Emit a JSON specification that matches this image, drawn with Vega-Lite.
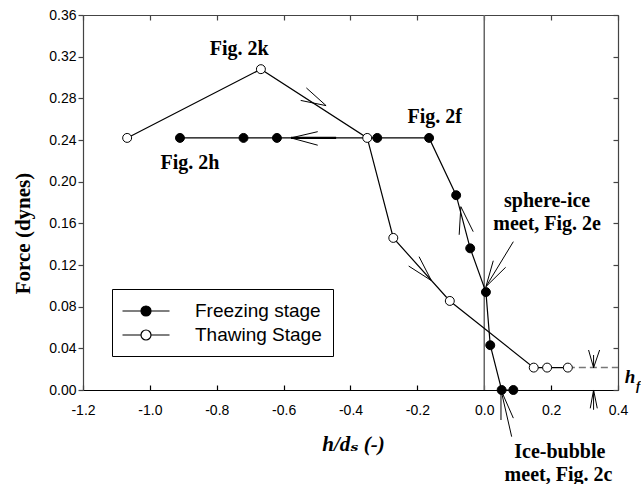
{
  "$schema": "https://vega.github.io/schema/vega-lite/v6.json",
  "width": 535,
  "height": 375,
  "autosize": {"type": "none"},
  "padding": {"left": 83, "top": 15, "right": 23, "bottom": 94},
  "background": "white",
  "config": {
    "view": {"stroke": null},
    "locale": {"number": {"decimal": ".", "thousands": ",", "grouping": [3], "currency": ["$", ""], "minus": "-"}},
    "axis": {
      "grid": false,
      "labelFont": "Liberation Sans",
      "labelFontSize": 14,
      "labelColor": "black",
      "titleFont": "Liberation Serif",
      "titleFontSize": 21,
      "titleFontWeight": "bold",
      "titleColor": "black",
      "domainColor": "#444",
      "tickColor": "#444",
      "domainWidth": 1.2,
      "tickWidth": 1.2,
      "labelFlush": false,
      "labelOverlap": false
    }
  },
  "datasets": {
    "curves": [
      {"series": "Freezing stage", "order": 1, "x": 0.087, "y": 0},
      {"series": "Freezing stage", "order": 2, "x": 0.052, "y": 0},
      {"series": "Freezing stage", "order": 3, "x": 0.018, "y": 0.043},
      {"series": "Freezing stage", "order": 4, "x": 0.005, "y": 0.094},
      {"series": "Freezing stage", "order": 5, "x": -0.042, "y": 0.136},
      {"series": "Freezing stage", "order": 6, "x": -0.084, "y": 0.187},
      {"series": "Freezing stage", "order": 7, "x": -0.165, "y": 0.242},
      {"series": "Freezing stage", "order": 8, "x": -0.32, "y": 0.242},
      {"series": "Freezing stage", "order": 9, "x": -0.62, "y": 0.242},
      {"series": "Freezing stage", "order": 10, "x": -0.72, "y": 0.242},
      {"series": "Freezing stage", "order": 11, "x": -0.91, "y": 0.242},
      {"series": "Thawing Stage", "order": 1, "x": -1.068, "y": 0.242},
      {"series": "Thawing Stage", "order": 2, "x": -0.668, "y": 0.308},
      {"series": "Thawing Stage", "order": 3, "x": -0.35, "y": 0.242},
      {"series": "Thawing Stage", "order": 4, "x": -0.272, "y": 0.146},
      {"series": "Thawing Stage", "order": 5, "x": -0.103, "y": 0.0855},
      {"series": "Thawing Stage", "order": 6, "x": 0.148, "y": 0.0215},
      {"series": "Thawing Stage", "order": 7, "x": 0.188, "y": 0.0215},
      {"series": "Thawing Stage", "order": 8, "x": 0.25, "y": 0.0215}
    ],
    "zeroline": [{"x": 0, "y": 0, "y2": 0.36}],
    "hfline": [{"x": 0.25, "x2": 0.4, "y": 0.0215}],
    "arrows": [
      {"x": -0.532, "y": 0.29, "x2": -0.473, "y2": 0.273},
      {"x": -0.549, "y": 0.278, "x2": -0.473, "y2": 0.273},
      {"x": -0.498, "y": 0.248, "x2": -0.578, "y2": 0.242},
      {"x": -0.498, "y": 0.235, "x2": -0.578, "y2": 0.242},
      {"x": -0.075, "y": 0.149, "x2": -0.07, "y2": 0.176},
      {"x": -0.033, "y": 0.152, "x2": -0.07, "y2": 0.176},
      {"x": -0.195, "y": 0.128, "x2": -0.158, "y2": 0.105},
      {"x": -0.226, "y": 0.119, "x2": -0.158, "y2": 0.105},
      {"x": 0.087, "y": 0.1424, "x2": 0.005, "y2": 0.0992},
      {"x": 0.027, "y": 0.1241, "x2": 0.005, "y2": 0.0992},
      {"x": 0.064, "y": 0.1178, "x2": 0.005, "y2": 0.0992},
      {"x": 0.327, "y": 0.0336, "x2": 0.327, "y2": 0.0214},
      {"x": 0.312, "y": 0.0384, "x2": 0.327, "y2": 0.0214},
      {"x": 0.345, "y": 0.0384, "x2": 0.327, "y2": 0.0214},
      {"x": 0.327, "y": -0.019, "x2": 0.327, "y2": 0},
      {"x": 0.317, "y": -0.0176, "x2": 0.327, "y2": 0},
      {"x": 0.338, "y": -0.0176, "x2": 0.327, "y2": 0},
      {"x": 0.082, "y": -0.0448, "x2": 0.05, "y2": 0},
      {"x": 0.05, "y": -0.0288, "x2": 0.05, "y2": 0},
      {"x": 0.087, "y": -0.027, "x2": 0.05, "y2": 0}
    ],
    "shafts": [
      {"x": -0.443, "y": 0.242, "x2": -0.578, "y2": 0.242}
    ],
    "labels": [
      {"x": -0.733, "y": 0.3216, "text": "Fig. 2k"},
      {"x": -0.88, "y": 0.2119, "text": "Fig. 2h"},
      {"x": -0.148, "y": 0.2566, "text": "Fig. 2f"},
      {"x": 0.188, "y": 0.1754, "text": "sphere-ice"},
      {"x": 0.188, "y": 0.1536, "text": "meet, Fig. 2e"},
      {"x": 0.226, "y": -0.0656, "text": "Ice-bubble"},
      {"x": 0.222, "y": -0.0871, "text": "meet, Fig. 2c"}
    ],
    "hlabel": [{"x": 0.42, "y": 0.0064, "text": "h"}],
    "flabel": [{"x": 0.4535, "y": 0.0, "text": "f"}]
  },
  "encoding": {
    "x": {"field": "x", "type": "quantitative", "scale": {"domain": [-1.2, 0.4], "nice": false, "zero": false}, "axis": null},
    "y": {"field": "y", "type": "quantitative", "scale": {"domain": [0, 0.36], "nice": false, "zero": false}, "axis": null}
  },
  "layer": [
    {
      "data": {"name": "zeroline"},
      "mark": {"type": "rule", "color": "#666", "strokeWidth": 1.5},
      "encoding": {"y2": {"field": "y2"}}
    },
    {
      "data": {"name": "hfline"},
      "mark": {"type": "rule", "color": "#777", "strokeWidth": 1.5, "strokeDash": [7, 4]},
      "encoding": {"x2": {"field": "x2"}}
    },
    {
      "data": {"name": "curves"},
      "mark": {"type": "line", "color": "black", "strokeWidth": 1.2},
      "encoding": {
        "x": {
          "field": "x", "type": "quantitative",
          "scale": {"domain": [-1.2, 0.4], "nice": false, "zero": false},
          "axis": {
            "orient": "bottom",
            "values": [-1.2, -1.0, -0.8, -0.6, -0.4, -0.2, 0, 0.2, 0.4],
            "format": ".1f",
            "tickSize": -5,
            "labelPadding": 18,
            "domainColor": "black",
            "tickColor": "black",
            "title": "h/dₛ (-)",
            "titleFont": "Liberation Serif, DejaVu Serif",
            "titleFontStyle": "italic",
            "titleX": 270,
            "titleY": 60,
            "titleBaseline": "alphabetic",
            "titleAlign": "center"
          }
        },
        "y": {
          "field": "y", "type": "quantitative",
          "scale": {"domain": [0, 0.36], "nice": false, "zero": false},
          "axis": {
            "orient": "left",
            "values": [0, 0.04, 0.08, 0.12, 0.16, 0.2, 0.24, 0.28, 0.32, 0.36],
            "format": ".2f",
            "tickSize": 5,
            "labelPadding": 2,
            "title": "Force (dynes)",
            "titleX": -60,
            "titleY": 218,
            "titleAngle": -90,
            "titleBaseline": "middle",
            "titleAlign": "center"
          }
        },
        "detail": {"field": "series", "type": "nominal"},
        "order": {"field": "order", "type": "quantitative"}
      }
    },
    {
      "data": {"name": "arrows"},
      "mark": {"type": "rule", "color": "black", "strokeWidth": 1},
      "encoding": {"x2": {"field": "x2"}, "y2": {"field": "y2"}}
    },
    {
      "data": {"name": "shafts"},
      "mark": {"type": "rule", "color": "black", "strokeWidth": 2.2},
      "encoding": {"x2": {"field": "x2"}, "y2": {"field": "y2"}}
    },
    {
      "data": {"name": "curves"},
      "mark": {"type": "circle", "size": 80, "stroke": "black", "strokeWidth": 1, "opacity": 1},
      "encoding": {
        "x": {
          "field": "x", "type": "quantitative",
          "scale": {"domain": [-1.2, 0.4], "nice": false, "zero": false},
          "axis": {
            "orient": "top",
            "values": [-1.2, -1.0, -0.8, -0.6, -0.4, -0.2, 0, 0.2, 0.4],
            "tickSize": -5,
            "labels": false,
            "title": null
          }
        },
        "y": {
          "field": "y", "type": "quantitative",
          "scale": {"domain": [0, 0.36], "nice": false, "zero": false},
          "axis": {
            "orient": "right",
            "values": [0, 0.04, 0.08, 0.12, 0.16, 0.2, 0.24, 0.28, 0.32, 0.36],
            "tickSize": -5,
            "labels": false,
            "title": null
          }
        },
        "fill": {
          "field": "series", "type": "nominal",
          "scale": {"domain": ["Freezing stage", "Thawing Stage"], "range": ["black", "white"]},
          "legend": {
            "title": null,
            "orient": "none",
            "legendX": 29,
            "legendY": 274,
            "symbolType": "M-2.35,0L-0.5,0M0.5,0L2.35,0M-0.5,0A0.5,0.5,0,1,1,0.5,0A0.5,0.5,0,1,1,-0.5,0Z",
            "symbolSize": 400,
            "symbolStrokeColor": "black",
            "symbolStrokeWidth": 1.2,
            "symbolOffset": 12,
            "labelOffset": 38,
            "labelFont": "Liberation Sans",
            "labelFontSize": 19,
            "labelColor": "black",
            "padding": 11,
            "rowPadding": 3,
            "strokeColor": "black",
            "fillColor": "white"
          }
        }
      }
    },
    {
      "data": {"name": "labels"},
      "mark": {"type": "text", "font": "Liberation Serif", "fontSize": 20, "fontWeight": "bold", "color": "black", "align": "center", "baseline": "alphabetic"},
      "encoding": {"text": {"field": "text"}}
    },
    {
      "data": {"name": "hlabel"},
      "mark": {"type": "text", "font": "Liberation Serif", "fontSize": 19, "fontWeight": "bold", "fontStyle": "italic", "color": "black", "align": "left", "baseline": "alphabetic"},
      "encoding": {"text": {"field": "text"}}
    },
    {
      "data": {"name": "flabel"},
      "mark": {"type": "text", "font": "Liberation Serif", "fontSize": 13, "fontWeight": "bold", "fontStyle": "italic", "color": "black", "align": "left", "baseline": "alphabetic"},
      "encoding": {"text": {"field": "text"}}
    }
  ],
  "resolve": {"axis": {"x": "independent", "y": "independent"}}
}
